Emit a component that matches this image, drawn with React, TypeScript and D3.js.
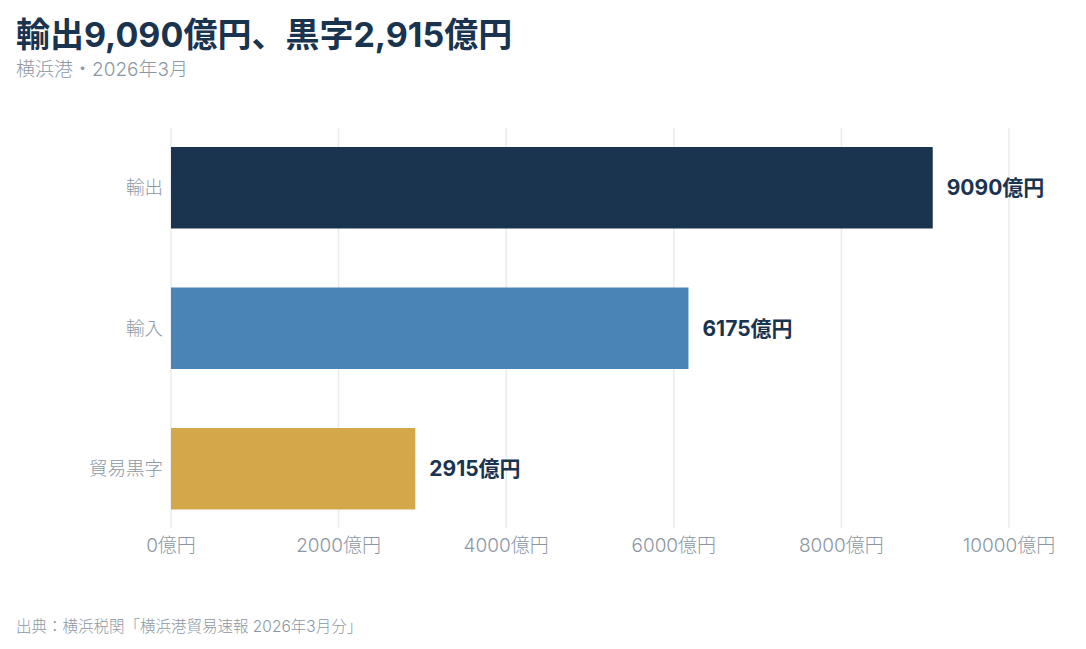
import React, { useEffect, useRef } from 'react';
import * as d3 from 'd3';

const categories = ['輸出', '輸入', '貿易黒字'];
const values = [9090, 6175, 2915];
const barColors = ['#1a334f', '#4a83b5', '#d5a74b'];
const xTicks = [0, 2000, 4000, 6000, 8000, 10000];

const W = 1086;
const H = 649;
const FONT = 'Inter, "Noto Sans CJK JP", sans-serif';

const App = () => {
  const svgRef = useRef(null);

  useEffect(() => {
    const svg = d3.select(svgRef.current);
    svg.selectAll('*').remove();

    const x = d3.scaleLinear().domain([0, 10000]).range([171, 1009]);
    const y = d3
      .scaleBand()
      .domain(categories)
      .range([117.5, 539])
      .paddingInner(0.42)
      .paddingOuter(0.21);

    // titles
    svg
      .append('text')
      .attr('x', 16)
      .attr('y', 47)
      .attr('fill', '#1a334f')
      .style('font-size', '34px')
      .style('font-weight', 'bold')
      .style('font-family', FONT)
      .text('輸出9,090億円、黒字2,915億円');

    svg
      .append('text')
      .attr('x', 16)
      .attr('y', 76)
      .attr('fill', '#8c97a3')
      .style('font-size', '19px')
      .style('font-weight', 300)
      .style('font-family', FONT)
      .text('横浜港・2026年3月');

    // grid
    svg
      .append('g')
      .selectAll('line')
      .data(xTicks)
      .enter()
      .append('line')
      .attr('x1', (d) => x(d))
      .attr('x2', (d) => x(d))
      .attr('y1', 128)
      .attr('y2', 528)
      .attr('stroke', '#e8ebee')
      .attr('stroke-width', 1.5);

    // tick labels
    svg
      .append('g')
      .selectAll('text')
      .data(xTicks)
      .enter()
      .append('text')
      .attr('x', (d) => x(d))
      .attr('y', 552)
      .attr('text-anchor', 'middle')
      .attr('fill', '#8c97a3')
      .style('font-size', '19px')
      .style('font-weight', 300)
      .style('font-family', FONT)
      .text((d) => `${d}億円`);

    const rows = categories.map((c, i) => ({ c, v: values[i], color: barColors[i] }));

    svg
      .append('g')
      .selectAll('rect')
      .data(rows)
      .enter()
      .append('rect')
      .attr('x', x(0))
      .attr('y', (d) => y(d.c))
      .attr('width', (d) => x(d.v) - x(0))
      .attr('height', y.bandwidth())
      .attr('fill', (d) => d.color);

    // category labels
    svg
      .append('g')
      .selectAll('text')
      .data(rows)
      .enter()
      .append('text')
      .attr('x', 163)
      .attr('y', (d) => y(d.c) + y.bandwidth() / 2)
      .attr('dy', '0.35em')
      .attr('text-anchor', 'end')
      .attr('fill', '#8c97a3')
      .style('font-size', '18.5px')
      .style('font-weight', 300)
      .style('font-family', FONT)
      .text((d) => d.c);

    // value labels
    svg
      .append('g')
      .selectAll('text')
      .data(rows)
      .enter()
      .append('text')
      .attr('x', (d) => x(d.v) + 14)
      .attr('y', (d) => y(d.c) + y.bandwidth() / 2)
      .attr('dy', '0.35em')
      .attr('fill', '#1a334f')
      .style('font-size', '21px')
      .style('font-weight', 'bold')
      .style('font-family', FONT)
      .text((d) => `${d.v}億円`);

    // source
    svg
      .append('text')
      .attr('x', 16)
      .attr('y', 632)
      .attr('fill', '#8c97a3')
      .style('font-size', '15.5px')
      .style('font-weight', 300)
      .style('font-family', FONT)
      .text('出典：横浜税関「横浜港貿易速報 2026年3月分」');
  }, []);

  return (
    <svg
      ref={svgRef}
      width={W}
      height={H}
      style={{ display: 'block', position: 'absolute', left: 0, top: 0, background: '#fff' }}
    />
  );
};

export default App;
